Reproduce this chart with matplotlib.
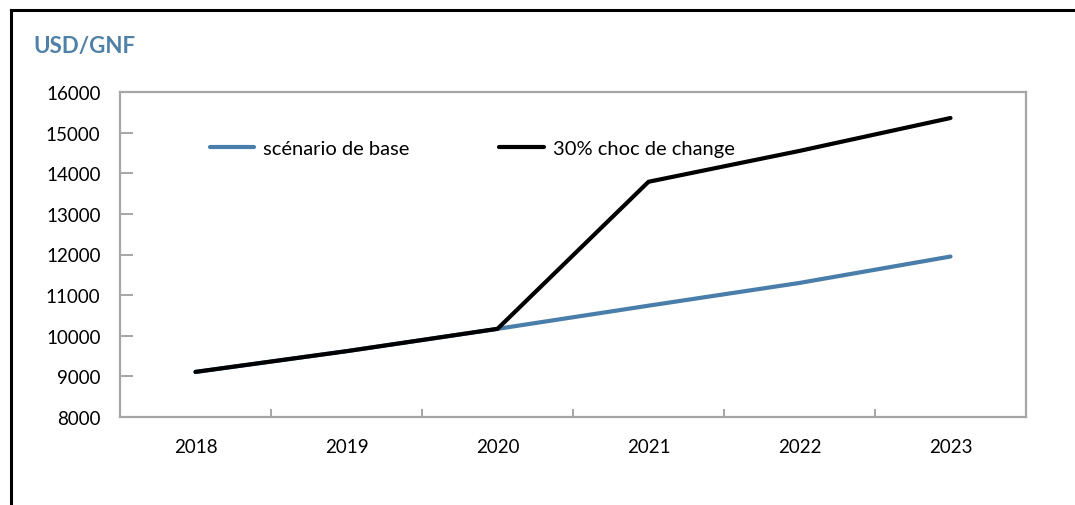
import matplotlib
matplotlib.use("Agg")
import matplotlib.pyplot as plt
from matplotlib.lines import Line2D

years = ["2018", "2019", "2020", "2021", "2022", "2023"]
base = [9110, 9620, 10170, 10740, 11300, 11950]
shock = [9110, 9620, 10170, 13790, 14550, 15360]
yticks = [8000, 9000, 10000, 11000, 12000, 13000, 14000, 15000, 16000]
label_base = "scénario de base"
label_shock = "30% choc de change"
title = "USD/GNF"

plt.rcParams['font.family'] = ['Lato', 'DejaVu Sans']

W, H = 1075, 506
fig = plt.figure(figsize=(W / 100, H / 100), dpi=100)
ax = fig.add_axes([120 / W, 1 - 418 / H, (1026 - 120) / W, (418 - 93) / H])

x = list(range(len(years)))
ax.plot(x, base, color="#4A7EAA", lw=3, label=label_base, solid_capstyle="round", zorder=2)
ax.plot(x, shock, color="black", lw=3, label=label_shock, solid_capstyle="round", zorder=3)

ax.set_xlim(-0.5, len(years) - 0.5)
ax.set_ylim(8000, 16000)
ax.set_yticks(yticks)
ax.set_yticklabels([str(v) for v in yticks])
ax.set_xticks(x)
ax.set_xticklabels(years)
ax.set_xticks([i + 0.5 for i in range(len(years) - 1)], minor=True)

for s in ax.spines.values():
    s.set_color("#A6A6A6")
    s.set_linewidth(1.6)

ax.tick_params(axis="y", direction="in", length=9, width=1.4, color="#A6A6A6",
               labelsize=13.5, pad=14, labelcolor="black")
ax.tick_params(axis="x", which="major", length=0, labelsize=13.5, pad=15, labelcolor="black")
ax.tick_params(axis="x", which="minor", direction="in", length=6, width=1.4, color="#A6A6A6")

ax.legend(loc="center left", bbox_to_anchor=(0.0905, 0.825), ncol=2, frameon=False,
          fontsize=14.5, handlelength=2.2, handletextpad=0.45, columnspacing=4.45,
          borderaxespad=0)

fig.text(33 / W, 1 - 47 / H, title, color="#4F81A8", fontsize=16, fontweight="bold",
         va="center", ha="left")

# outer frame (left and top)
fig.add_artist(Line2D([10.5 / W, 10.5 / W], [0, 1 - 10.5 / H], color="black", lw=2.2,
                      transform=fig.transFigure))
fig.add_artist(Line2D([10.5 / W, 1], [1 - 10.5 / H, 1 - 10.5 / H], color="black", lw=2.2,
                      transform=fig.transFigure))

fig.savefig("out.png", dpi=100)
